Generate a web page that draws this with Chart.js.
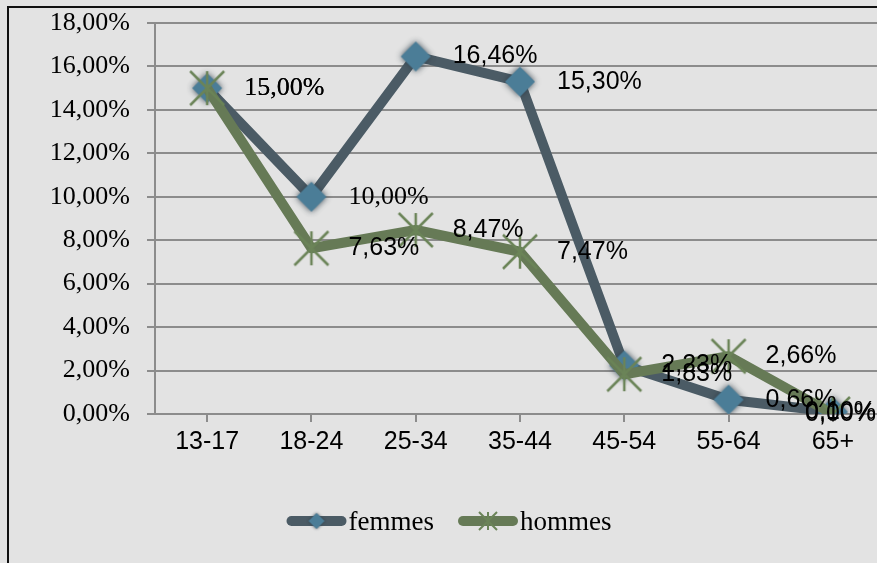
<!DOCTYPE html>
<html>
<head>
<meta charset="utf-8">
<script src="https://cdn.jsdelivr.net/npm/chart.js@4/dist/chart.umd.min.js"></script>
<style>
  html,body{margin:0;padding:0;background:#e3e3e3;overflow:hidden;width:877px;height:563px}
  #frame{position:absolute;left:7px;top:6px;width:920px;height:600px;border:2px solid #111}
  #c{position:absolute;left:0;top:0}
</style>
</head>
<body>
<div id="frame"></div>
<canvas id="c" width="890" height="563"></canvas>
<script>
/* -------------------- Data -------------------- */
const ageGroups = ['13-17','18-24','25-34','35-44','45-54','55-64','65+']
const femmes = [15.00, 10.00, 16.46, 15.30, 2.23, 0.66, 0.10]
const hommes = [15.00, 7.63, 8.47, 7.47, 1.83, 2.66, 0.00]
const yMin = 0, yMax = 18, yStep = 2

/* -------------------- Style -------------------- */
const SERIF = '"Liberation Serif", "Times New Roman", serif'
const SANS = '"Liberation Sans", Arial, sans-serif'
const femmesLine = '#4b5b65', hommesLine = '#667a56'
const gridGray = '#8c8c8c'
// which data labels came out in the serif face in the original
const serifLabels = {0:[0,1], 1:[0]}

function pct(v){ return v.toFixed(2).replace('.',',') + '%' }

function diamond(half, blur){
  const s = Math.ceil(half*2 + blur*4)
  const cv = document.createElement('canvas'); cv.width = s; cv.height = s
  const g = cv.getContext('2d'), m = s/2
  g.shadowColor = 'rgba(45,60,70,0.9)'; g.shadowBlur = blur
  g.fillStyle = '#4b7d97'
  g.beginPath(); g.moveTo(m, m-half); g.lineTo(m+half, m); g.lineTo(m, m+half); g.lineTo(m-half, m); g.closePath(); g.fill()
  return cv
}
function star(half, lw){
  const s = Math.ceil(half*2 + 6)
  const cv = document.createElement('canvas'); cv.width = s; cv.height = s
  const g = cv.getContext('2d'), m = s/2
  g.strokeStyle = '#6b8458'; g.lineWidth = lw; g.lineCap = 'butt'
  g.beginPath()
  g.moveTo(m-half, m-half); g.lineTo(m+half, m+half)
  g.moveTo(m+half, m-half); g.lineTo(m-half, m+half)
  g.moveTo(m, m-half); g.lineTo(m, m+half)
  g.stroke()
  return cv
}
const diamondBig = diamond(15, 6), diamondSmall = diamond(8, 3)
const starBig = star(17, 2.5), starSmall = star(9, 2)

/* -------------------- Plugins -------------------- */
const dataLabels = {
  id:'dataLabels',
  afterDatasetsDraw(chart){
    const ctx = chart.ctx
    ctx.save()
    ctx.fillStyle = '#000'; ctx.textBaseline = 'middle'; ctx.textAlign = 'left'
    chart.data.datasets.forEach((ds, di)=>{
      const meta = chart.getDatasetMeta(di)
      meta.data.forEach((pt, i)=>{
        const serif = (serifLabels[di] || []).includes(i)
        ctx.font = serif ? `26px ${SERIF}` : `25px ${SANS}`
        const txt = pct(ds.data[i])
        const w = ctx.measureText(txt).width
        let x = pt.x + 37
        if(x + w > 876) x = 876 - w
        ctx.fillText(txt, x, pt.y)
      })
    })
    ctx.restore()
  }
}

const customLegend = {
  id:'customLegend',
  afterDraw(chart){
    const ctx = chart.ctx
    const items = [
      {label: chart.data.datasets[0].label, color: femmesLine, mark: diamondSmall},
      {label: chart.data.datasets[1].label, color: hommesLine, mark: starSmall}
    ]
    ctx.save()
    ctx.font = `27px ${SERIF}`
    const sample = 60, gap = 2, itemGap = 24
    let total = 0
    items.forEach((it, k)=>{ it.w = ctx.measureText(it.label).width; total += sample + gap + it.w + (k ? itemGap : 0) })
    let x = 449 - total/2
    const y = 521
    items.forEach(it=>{
      ctx.strokeStyle = it.color; ctx.lineWidth = 10; ctx.lineCap = 'round'
      ctx.beginPath(); ctx.moveTo(x+5, y); ctx.lineTo(x+sample-5, y); ctx.stroke()
      ctx.drawImage(it.mark, x + sample/2 - it.mark.width/2, y - it.mark.height/2)
      ctx.fillStyle = '#000'; ctx.textBaseline = 'alphabetic'; ctx.textAlign = 'left'
      ctx.fillText(it.label, x + sample + gap, y + 9)
      x += sample + gap + it.w + itemGap
    })
    ctx.restore()
  }
}

/* -------------------- Chart -------------------- */
// image markers are drawn at their own size; a small radius keeps the layout from reserving room for them
new Chart(document.getElementById('c').getContext('2d'), {
  type:'line',
  data:{
    labels: ageGroups,
    datasets:[
      {label:'femmes', data:femmes, borderColor:femmesLine, borderWidth:10, borderJoinStyle:'round',
       pointStyle:diamondBig, pointRadius:3, pointBorderWidth:0, order:1, tension:0},
      {label:'hommes', data:hommes, borderColor:hommesLine, borderWidth:10, borderJoinStyle:'round',
       pointStyle:starBig, pointRadius:3, pointBorderWidth:0, order:0, tension:0}
    ]
  },
  options:{
    responsive:false,
    animation:false,
    devicePixelRatio:1,
    layout:{padding:{left:0, right:5, top:23, bottom:0}},
    plugins:{legend:{display:false}, tooltip:{enabled:false}},
    scales:{
      x:{
        offset:true,
        grid:{drawOnChartArea:false, drawTicks:true, tickLength:8, color:gridGray, lineWidth:2},
        border:{color:gridGray, width:2},
        ticks:{font:{family:SANS, size:25}, color:'#000', padding:5, maxRotation:0, autoSkip:false},
        afterFit(s){ s.height = 149; s.paddingLeft = 0; s.paddingRight = 0 }
      },
      y:{
        min:yMin, max:yMax,
        grid:{color:gridGray, lineWidth:2, tickLength:8},
        border:{color:gridGray, width:2},
        ticks:{stepSize:yStep, font:{family:SERIF, size:26}, color:'#000', padding:17, callback:v=>pct(v)},
        afterFit(s){ s.width = 155; s.paddingTop = 0; s.paddingBottom = 0 }
      }
    }
  },
  plugins:[dataLabels, customLegend]
})
</script>
</body>
</html>
